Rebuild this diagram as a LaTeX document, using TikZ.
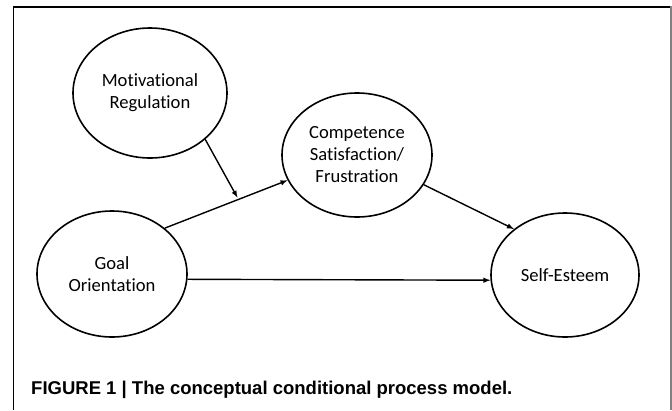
\documentclass[tikz,border=0pt]{standalone}
\usepackage{fontspec}
\setmainfont{Carlito}[RawFeature=-liga]
\newfontfamily\capfont{Liberation Sans}
\usetikzlibrary{shapes.geometric}

\begin{document}
\begin{tikzpicture}[x=1pt, y=-1pt,
	var/.style={draw, ellipse, line width=1.6pt, inner sep=0pt, align=center,
		font=\fontsize{18.6}{22}\selectfont},
	link/.style={->, >=latex, line width=1.4pt}]
	\useasboundingbox (0,0) rectangle (672,410);

	% frame
	\draw[line width=1.2pt] (13.5,410) -- (13.5,7) -- (671,7);
	\draw[line width=2pt, gray] (671,6) -- (671,410);

	\node(Mot) [var, minimum width=154pt, minimum height=130pt] at (150,93) {Motivational\\Regulation};
	\node(Comp) [var, minimum width=150pt, minimum height=124pt] at (357,155) {Competence\\Satisfaction/\\Frustration};
	\node(Goal) [var, minimum width=150pt, minimum height=126pt] at (112,274) {Goal\\Orientation};
	\node(SE) [var, minimum width=148pt, minimum height=124pt] at (565,275) {Self-Esteem};

	\draw[link] (Goal.41) -- coordinate[pos=0.6] (m) (Comp.200);
	\draw[link, shorten >=2pt] (Mot.320) -- (m);
	\draw[link] (Comp.336) -- (SE.138);
	\draw[link] (Goal.356) -- (SE.184);

	\node(Cap) [anchor=base west, inner sep=0pt, font=\capfont\bfseries\fontsize{18.5}{22}\selectfont] at (31,394) {FIGURE 1 | The conceptual conditional process model.};

\end{tikzpicture}
\end{document}
